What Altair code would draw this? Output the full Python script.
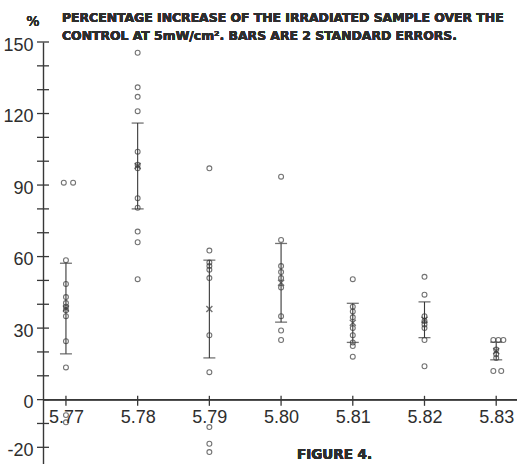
import altair as alt
import pandas as pd

# Wavelength-like positions of the seven sample groups
groups = [5.77, 5.78, 5.79, 5.80, 5.81, 5.82, 5.83]
group_labels = ["5.77", "5.78", "5.79", "5.80", "5.81", "5.82", "5.83"]

# Individual percentage increases per group
vals_577 = [91, 91, 58.5, 48.5, 43, 40.5, 39, 37.5, 35, 24.5, 13.5, -6.5, -9.5]
vals_578 = [145.5, 131, 127, 121, 104, 98.5, 97, 84.5, 80.5, 70.5, 66, 50.5]
vals_579 = [97, 62.5, 57.5, 56, 54.5, 51, 27, 11.5, -11.5, -18.5, -22]
vals_580 = [93.5, 67, 56, 53.5, 51, 47, 35, 29, 25]
vals_581 = [50.5, 39, 37, 34.5, 30, 27, 24, 22.5, 18]
vals_582 = [51.5, 44, 35, 33, 31.5, 30, 25, 14]
vals_583 = [25, 25, 25, 21, 19, 17.5, 12, 12]

# Side-by-side placement of coincident values (x units)
dodge_577 = [-0.0003, 0.001, 0, 0, 0, 0, 0, 0, 0, 0, 0, 0, 0]
dodge_583 = [-0.0004, 0.0003, 0.001, 0, 0, 0, -0.0004, 0.0007]

# Group means and 2 standard errors
means = [38.2, 98, 38, 49, 32.2, 33.5, 20.4]
two_se = [19, 18, 20.5, 16.5, 8.2, 7.5, 3.7]

y_ticks = list(range(-20, 151, 10))
y_labels = [-20, 0, 30, 60, 90, 120, 150]

all_vals = [vals_577, vals_578, vals_579, vals_580, vals_581, vals_582, vals_583]
rows = []
for g, vs in zip(groups, all_vals):
    for i, v in enumerate(vs):
        off = 0.0
        if g == 5.77:
            off = dodge_577[i]
        elif g == 5.83:
            off = dodge_583[i]
        rows.append({"x": g + off, "v": v})
pts = pd.DataFrame(rows)

bars = pd.DataFrame({
    "x": groups,
    "label": group_labels,
    "mean": means,
    "lo": [m - e for m, e in zip(means, two_se)],
    "hi": [m + e for m, e in zip(means, two_se)],
})
yt = pd.DataFrame({"v": y_ticks})

W, H = 474, 422
Y_MIN, Y_MAX = -27, 150
X_MIN, X_MAX = 5.7668, 5.8329
axis_offset = -(0 - Y_MIN) / (Y_MAX - Y_MIN) * H

FONT = "Liberation Sans"
TFONT = "DejaVu Sans"
INK = "#383838"
TXT = "#2e2e2e"

xs = alt.Scale(domain=[X_MIN, X_MAX], nice=False, zero=False)
ys = alt.Scale(domain=[Y_MIN, Y_MAX], nice=False, zero=False)

x_axis = alt.Axis(
    values=groups, labelExpr="format(datum.value, '.2f')", domain=False,
    ticks=False, grid=False, title=None, offset=axis_offset,
    labelFont=FONT, labelFontSize=18, labelColor=TXT, labelPadding=9,
)
y_axis = alt.Axis(
    values=y_labels,
    labelExpr="datum.value < 0 ? '-' + abs(datum.value) : '' + datum.value",
    domain=True, domainColor=INK, domainWidth=1.4, ticks=False, grid=False,
    title=None, labelFont=FONT, labelFontSize=18, labelColor=TXT,
    labelPadding=10, labelOffset=3,
)

points = alt.Chart(pts).mark_point(
    shape="circle", size=24, filled=False, strokeWidth=1.1, color=INK
).encode(
    x=alt.X("x:Q", scale=xs, axis=x_axis),
    y=alt.Y("v:Q", scale=ys, axis=y_axis),
)

err = alt.Chart(bars).mark_rule(color=INK, strokeWidth=1.1).encode(
    x="x:Q", y="lo:Q", y2="hi:Q"
)
cap_lo = alt.Chart(bars).mark_tick(
    orient="horizontal", size=12, thickness=1.3, color=INK
).encode(x="x:Q", y="lo:Q")
cap_hi = alt.Chart(bars).mark_tick(
    orient="horizontal", size=12, thickness=1.3, color=INK
).encode(x="x:Q", y="hi:Q")
mean_mark = alt.Chart(bars).mark_point(
    shape="M-1,-1L1,1M-1,1L1,-1", size=36, filled=False,
    strokeWidth=1.4, color=INK
).encode(x="x:Q", y="mean:Q")

# x axis line at zero with crossing ticks
x_line = alt.Chart(bars).mark_rule(color=INK, strokeWidth=1.4).encode(
    y=alt.datum(0), x=alt.value(0), x2=alt.value(W)
)
x_ticks = alt.Chart(bars).mark_rule(color=INK, strokeWidth=1.3).encode(
    x="x:Q", y=alt.datum(-2.6), y2=alt.datum(1.6)
)
# y axis ticks crossing the axis line
y_tick_marks = alt.Chart(yt).mark_rule(color=INK, strokeWidth=1.3).encode(
    y="v:Q", x=alt.value(-6), x2=alt.value(6)
)

title1 = alt.Chart(bars).mark_text(
    align="left", baseline="alphabetic", font=TFONT, fontSize=12.4,
    fontWeight="bold", color=TXT
).encode(
    x=alt.value(19), y=alt.value(-20),
    text=alt.value("PERCENTAGE INCREASE OF THE IRRADIATED SAMPLE OVER THE"),
)
title2 = alt.Chart(bars).mark_text(
    align="left", baseline="alphabetic", font=TFONT, fontSize=12.4,
    fontWeight="bold", color=TXT
).encode(
    x=alt.value(19), y=alt.value(-2),
    text=alt.value("CONTROL AT 5mW/cm². BARS ARE 2 STANDARD ERRORS."),
)
pct = alt.Chart(bars).mark_text(
    align="center", baseline="alphabetic", font=TFONT, fontSize=14,
    color=TXT
).encode(x=alt.value(-10), y=alt.value(-16), text=alt.value("%"))
fig = alt.Chart(bars).mark_text(
    align="left", baseline="alphabetic", font=TFONT, fontSize=13.5,
    fontWeight="bold", color=TXT
).encode(x=alt.value(254), y=alt.value(417), text=alt.value("FIGURE 4."))

chart = alt.layer(
    points, x_line, x_ticks, y_tick_marks, err, cap_lo, cap_hi, mean_mark,
    title1, title2, pct, fig,
).properties(
    width=W, height=H,
    padding={"left": 43, "top": 42, "right": 0, "bottom": 0},
    autosize=alt.AutoSizeParams(type="none"),
    background="white",
).configure_view(stroke=None).configure_axis(labelOverlap=False)

chart.save("out.html", embed_options={"renderer": "svg", "actions": False})
